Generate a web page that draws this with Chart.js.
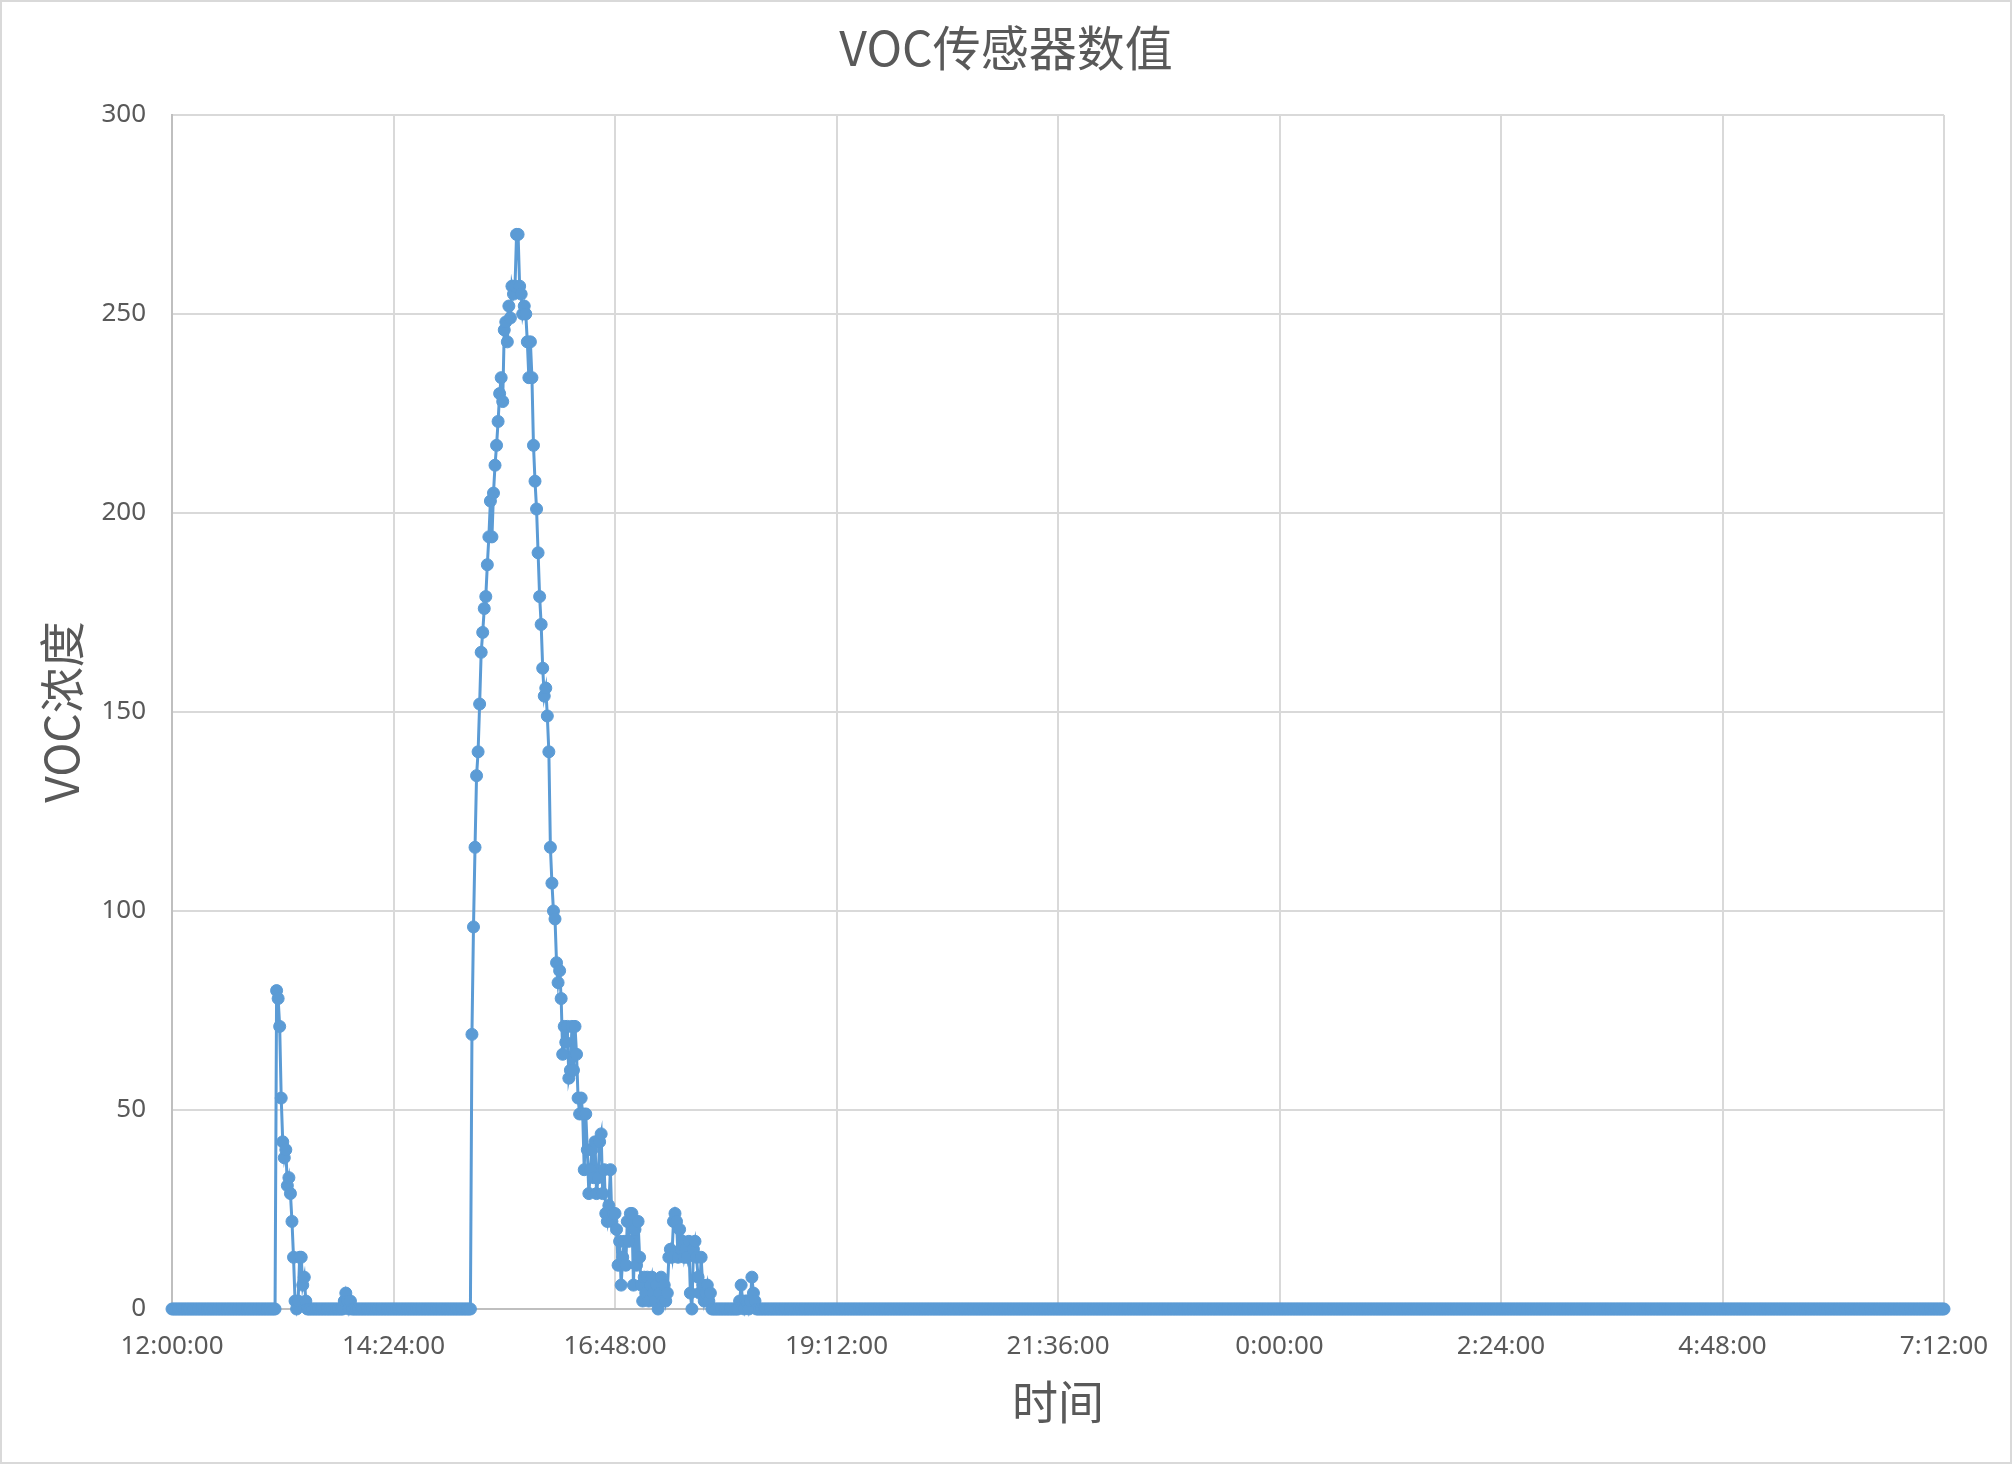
<!DOCTYPE html>
<html>
<head>
<meta charset="utf-8">
<script src="https://cdn.jsdelivr.net/npm/chart.js@4"></script>
<style>
  html, body { margin: 0; padding: 0; background: #ffffff; }
  #wrap { width: 2012px; height: 1464px; position: relative; }
  canvas { display: block; }
</style>
</head>
<body>
<div id="wrap"><canvas id="c" width="2012" height="1464"></canvas></div>
<script>
// ---- Text ----
const chartTitle = 'VOC传感器数值';
const xAxisTitle = '时间';
const yAxisTitle = 'VOC浓度';

// ---- Tick labels ----
const xTickLabels = ['12:00:00', '14:24:00', '16:48:00', '19:12:00', '21:36:00', '0:00:00', '2:24:00', '4:48:00', '7:12:00'];
const xTickStepMinutes = 144;
const yTickValues = [0, 50, 100, 150, 200, 250, 300];

// ---- Sampling: one reading per minute starting at 12:00:00 ----
const sampleStartMinute = 0;
const sampleStepMinutes = 1;

// ---- VOC readings (24 readings per row = 24 minutes) ----
const vocValues = [
  0,0,0,0,0,0, 0,0,0,0,0,0, 0,0,0,0,0,0, 0,0,0,0,0,0,            // 12:00
  0,0,0,0,0,0, 0,0,0,0,0,0, 0,0,0,0,0,0, 0,0,0,0,0,0,            // 12:24
  0,0,0,0,0,0, 0,0,0,0,0,0, 0,0,0,0,0,0, 0,0,80,78,71,53,        // 12:48
  42,38,40,31,33,29, 22,13,2,0,2,13, 13,6,8,2,0,0, 0,0,0,0,0,0,  // 13:12
  0,0,0,0,0,0, 0,0,0,0,0,0, 0,0,0,0,2,4, 2,0,2,0,0,0,            // 13:36
  0,0,0,0,0,0, 0,0,0,0,0,0, 0,0,0,0,0,0, 0,0,0,0,0,0,            // 14:00
  0,0,0,0,0,0, 0,0,0,0,0,0, 0,0,0,0,0,0, 0,0,0,0,0,0,            // 14:24
  0,0,0,0,0,0, 0,0,0,0,0,0, 0,0,0,0,0,0, 0,0,0,0,0,0,            // 14:48
  0,0,0,69,96,116, 134,140,152,165,170,176, 179,187,194,203,194,205, 212,217,223,230,234,228, // 15:12
  246,248,243,252,249,257, 255,257,270,270,257,255, 250,252,250,243,234,243, 234,217,208,201,190,179, // 15:36
  172,161,154,156,149,140, 116,107,100,98,87,82, 85,78,64,71,67,71, 58,60,71,60,71,64, // 16:00
  53,49,53,49,35,49, 40,29,35,40,33,42, 29,33,42,44,29,35, 24,22,26,35,22,24,        // 16:24
  24,20,11,17,6,13, 17,11,22,17,24,24, 6,20,11,22,13,6, 2,8,4,8,2,6,                 // 16:48
  8,4,2,6,0,4, 8,2,6,2,4,13, 15,13,22,24,22,13, 20,15,17,13,15,13,                   // 17:12
  17,4,0,15,17,13, 8,4,13,6,2,4, 6,2,4,0,0,0, 0,0,0,0,0,0,                           // 17:36
  0,0,0,0,0,0, 0,0,0,2,6,2, 0,2,2,0,2,8, 4,2,0,0,0,0,                                // 18:00
  0,0,0,0,0,0, 0,0,0,0,0,0, 0,0,0,0,0,0, 0,0,0,0,0,0,            // 18:24
  0,0,0,0,0,0, 0,0,0,0,0,0, 0,0,0,0,0,0, 0,0,0,0,0,0,            // 18:48
  0,0,0,0,0,0, 0,0,0,0,0,0, 0,0,0,0,0,0, 0,0,0,0,0,0,            // 19:12
  0,0,0,0,0,0, 0,0,0,0,0,0, 0,0,0,0,0,0, 0,0,0,0,0,0,            // 19:36
  0,0,0,0,0,0, 0,0,0,0,0,0, 0,0,0,0,0,0, 0,0,0,0,0,0,            // 20:00
  0,0,0,0,0,0, 0,0,0,0,0,0, 0,0,0,0,0,0, 0,0,0,0,0,0,            // 20:24
  0,0,0,0,0,0, 0,0,0,0,0,0, 0,0,0,0,0,0, 0,0,0,0,0,0,            // 20:48
  0,0,0,0,0,0, 0,0,0,0,0,0, 0,0,0,0,0,0, 0,0,0,0,0,0,            // 21:12
  0,0,0,0,0,0, 0,0,0,0,0,0, 0,0,0,0,0,0, 0,0,0,0,0,0,            // 21:36
  0,0,0,0,0,0, 0,0,0,0,0,0, 0,0,0,0,0,0, 0,0,0,0,0,0,            // 22:00
  0,0,0,0,0,0, 0,0,0,0,0,0, 0,0,0,0,0,0, 0,0,0,0,0,0,            // 22:24
  0,0,0,0,0,0, 0,0,0,0,0,0, 0,0,0,0,0,0, 0,0,0,0,0,0,            // 22:48
  0,0,0,0,0,0, 0,0,0,0,0,0, 0,0,0,0,0,0, 0,0,0,0,0,0,            // 23:12
  0,0,0,0,0,0, 0,0,0,0,0,0, 0,0,0,0,0,0, 0,0,0,0,0,0,            // 23:36
  0,0,0,0,0,0, 0,0,0,0,0,0, 0,0,0,0,0,0, 0,0,0,0,0,0,            // 0:00
  0,0,0,0,0,0, 0,0,0,0,0,0, 0,0,0,0,0,0, 0,0,0,0,0,0,            // 0:24
  0,0,0,0,0,0, 0,0,0,0,0,0, 0,0,0,0,0,0, 0,0,0,0,0,0,            // 0:48
  0,0,0,0,0,0, 0,0,0,0,0,0, 0,0,0,0,0,0, 0,0,0,0,0,0,            // 1:12
  0,0,0,0,0,0, 0,0,0,0,0,0, 0,0,0,0,0,0, 0,0,0,0,0,0,            // 1:36
  0,0,0,0,0,0, 0,0,0,0,0,0, 0,0,0,0,0,0, 0,0,0,0,0,0,            // 2:00
  0,0,0,0,0,0, 0,0,0,0,0,0, 0,0,0,0,0,0, 0,0,0,0,0,0,            // 2:24
  0,0,0,0,0,0, 0,0,0,0,0,0, 0,0,0,0,0,0, 0,0,0,0,0,0,            // 2:48
  0,0,0,0,0,0, 0,0,0,0,0,0, 0,0,0,0,0,0, 0,0,0,0,0,0,            // 3:12
  0,0,0,0,0,0, 0,0,0,0,0,0, 0,0,0,0,0,0, 0,0,0,0,0,0,            // 3:36
  0,0,0,0,0,0, 0,0,0,0,0,0, 0,0,0,0,0,0, 0,0,0,0,0,0,            // 4:00
  0,0,0,0,0,0, 0,0,0,0,0,0, 0,0,0,0,0,0, 0,0,0,0,0,0,            // 4:24
  0,0,0,0,0,0, 0,0,0,0,0,0, 0,0,0,0,0,0, 0,0,0,0,0,0,            // 4:48
  0,0,0,0,0,0, 0,0,0,0,0,0, 0,0,0,0,0,0, 0,0,0,0,0,0,            // 5:12
  0,0,0,0,0,0, 0,0,0,0,0,0, 0,0,0,0,0,0, 0,0,0,0,0,0,            // 5:36
  0,0,0,0,0,0, 0,0,0,0,0,0, 0,0,0,0,0,0, 0,0,0,0,0,0,            // 6:00
  0,0,0,0,0,0, 0,0,0,0,0,0, 0,0,0,0,0,0, 0,0,0,0,0,0,            // 6:24
  0,0,0,0,0,0, 0,0,0,0,0,0, 0,0,0,0,0,0, 0,0,0,0,0,0,            // 6:48
  0                                                              // 7:12
];

// ---- Build the point table for the library ----
const vocPoints = vocValues.map((v, i) => ({ x: sampleStartMinute + i * sampleStepMinutes, y: v }));
const xMaxMinute = (xTickLabels.length - 1) * xTickStepMinutes;

const textColor = '#595959';
const cjkFont = "'Noto Sans CJK SC', 'Noto Sans', sans-serif";
const latinFont = "'Noto Sans', 'Noto Sans CJK SC', sans-serif";

const framePlugin = {
  id: 'frame',
  beforeDraw(chart) {
    const ctx = chart.ctx;
    ctx.save();
    ctx.fillStyle = '#ffffff';
    ctx.fillRect(0, 0, chart.width, chart.height);
    ctx.restore();
  },
  afterDraw(chart) {
    const ctx = chart.ctx;
    ctx.save();
    ctx.strokeStyle = '#d9d9d9';
    ctx.lineWidth = 2;
    ctx.strokeRect(1, 1, chart.width - 2, chart.height - 2);
    ctx.restore();
  }
};

new Chart(document.getElementById('c'), {
  type: 'line',
  data: {
    datasets: [{
      label: yAxisTitle,
      data: vocPoints,
      xAxisID: 'x',
      yAxisID: 'y',
      borderColor: '#5B9BD5',
      backgroundColor: '#5B9BD5',
      borderWidth: 3,
      pointRadius: 6,
      pointBorderWidth: 1,
      pointBackgroundColor: '#5B9BD5',
      pointBorderColor: '#5B9BD5',
      tension: 0,
      clip: false
    }]
  },
  options: {
    responsive: false,
    devicePixelRatio: 1,
    animation: false,
    events: [],
    layout: { padding: 0 },
    plugins: {
      legend: { display: false },
      tooltip: { enabled: false },
      title: {
        display: true,
        text: chartTitle,
        color: textColor,
        font: { family: cjkFont, size: 48, weight: 'normal', lineHeight: 1.2 },
        padding: { top: 19, bottom: 38.4 }
      }
    },
    scales: {
      x: {
        type: 'linear',
        min: 0,
        max: xMaxMinute,
        afterFit: (s) => { s.height = 155; },
        afterBuildTicks: (s) => { s.ticks = xTickLabels.map((_, i) => ({ value: i * xTickStepMinutes })); },
        ticks: {
          autoSkip: false,
          maxRotation: 0,
          padding: 22,
          color: textColor,
          font: { family: latinFont, size: 26 },
          callback: (v) => xTickLabels[Math.round(v / xTickStepMinutes)]
        },
        grid: { color: '#d9d9d9', lineWidth: 2, drawTicks: false },
        border: { color: '#bfbfbf', width: 2 },
        title: {
          display: true,
          text: xAxisTitle,
          color: textColor,
          font: { family: cjkFont, size: 46, lineHeight: 1.2 },
          padding: { top: 0, bottom: 35 }
        }
      },
      y: {
        type: 'linear',
        position: 'left',
        min: yTickValues[0],
        max: yTickValues[yTickValues.length - 1],
        afterFit: (s) => { s.width = 172; },
        afterBuildTicks: (s) => { s.ticks = yTickValues.map(v => ({ value: v })); },
        ticks: {
          padding: 26,
          color: textColor,
          font: { family: latinFont, size: 26 }
        },
        grid: { color: '#d9d9d9', lineWidth: 2, drawTicks: false },
        border: { color: '#bfbfbf', width: 2 },
        title: {
          display: true,
          text: yAxisTitle,
          color: textColor,
          font: { family: cjkFont, size: 46, lineHeight: 1.2 },
          padding: { top: 34, bottom: 0 }
        }
      },
      yRightSpace: {
        type: 'linear',
        position: 'right',
        min: 0,
        max: 1,
        afterFit: (s) => { s.width = 68; },
        ticks: { display: false },
        grid: { display: false, drawTicks: false },
        border: { display: false }
      }
    }
  },
  plugins: [framePlugin]
});
</script>
</body>
</html>
